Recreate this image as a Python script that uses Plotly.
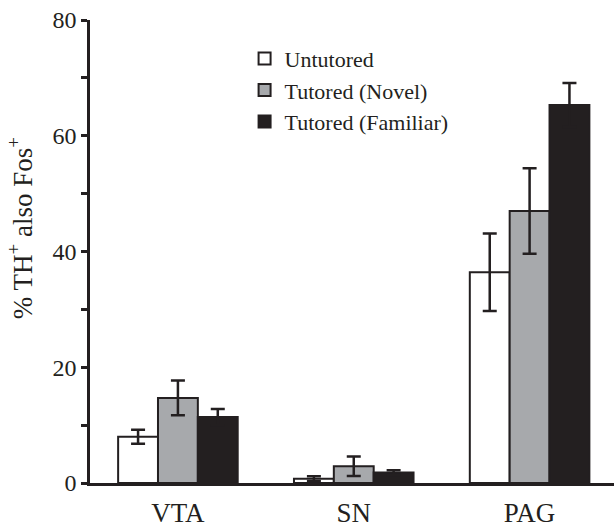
import plotly.graph_objects as go

regions = ["VTA", "SN", "PAG"]
series_names = ["Untutored", "Tutored (Novel)", "Tutored (Familiar)"]
untutored = [8.0, 0.75, 36.4]
untutored_err = [1.2, 0.4, 6.7]
novel = [14.7, 2.9, 47.0]
novel_err = [3.0, 1.7, 7.4]
familiar = [11.4, 1.8, 65.3]
familiar_err = [1.4, 0.4, 3.8]
y_ticks = [0, 20, 40, 60, 80]

ink = "#231f20"
fills = ["#ffffff", "#a7a9ac", ink]
values = [untutored, novel, familiar]
errors = [untutored_err, novel_err, familiar_err]

fig = go.Figure()
for name, vals, errs, fill in zip(series_names, values, errors, fills):
    fig.add_trace(go.Bar(
        x=regions, y=vals, name=name,
        marker=dict(color=fill, line=dict(color=ink, width=2)),
        error_y=dict(type="data", array=errs, visible=True, color=ink,
                     thickness=2.5, width=7),
    ))

serif = "Liberation Serif, Times New Roman, serif"
fig.update_layout(
    width=614, height=531,
    margin=dict(l=90, r=0, t=20, b=48),
    plot_bgcolor="white", paper_bgcolor="white",
    barmode="group", bargap=0.32, bargroupgap=0,
    font=dict(family=serif, color=ink, size=24),
    legend=dict(x=0.295, y=0.962, xanchor="left", yanchor="top",
                font=dict(family=serif, size=22, color=ink),
                bgcolor="rgba(0,0,0,0)", itemwidth=30, tracegroupgap=0),
    showlegend=True,
)
fig.update_xaxes(
    range=[-0.5, 2.48], showline=True, linecolor=ink, linewidth=2.5,
    ticks="", showgrid=False, zeroline=False, automargin=False,
    ticklabelstandoff=4,
    tickfont=dict(family=serif, size=27, color=ink),
)
fig.update_yaxes(
    range=[0, 80], tickvals=y_ticks, showline=True, linecolor=ink, linewidth=2.5,
    ticks="outside", ticklen=6, tickwidth=2.5, tickcolor=ink,
    minor=dict(ticks="outside", ticklen=6, tickwidth=2.5, tickcolor=ink, dtick=10, tick0=0),
    showgrid=False, zeroline=False, automargin=False,
    tickfont=dict(family=serif, size=24, color=ink),
)
fig.add_annotation(
    text="% TH<sup>+</sup> also Fos<sup>+</sup>", textangle=-90,
    xref="paper", yref="paper", x=-0.132, y=0.55,
    xanchor="center", yanchor="middle", showarrow=False,
    font=dict(family=serif, size=27, color=ink),
)
fig.write_html("out.html", config={"displayModeBar": False},
               post_script="document.body.style.margin='0';")
